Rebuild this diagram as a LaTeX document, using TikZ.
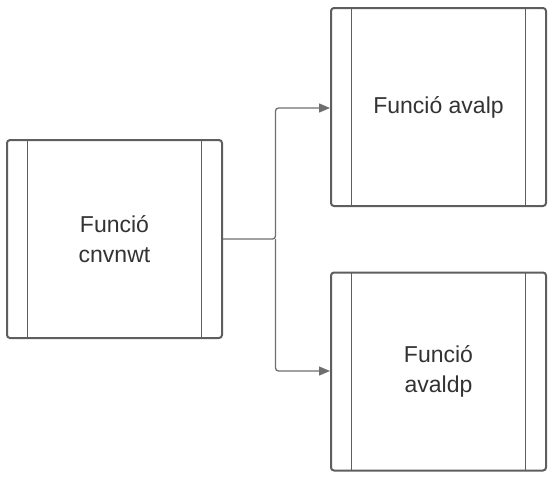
\documentclass[tikz,border=0pt]{standalone}
\usepackage{fontspec}
\setmainfont{Liberation Sans}
\usetikzlibrary{arrows.meta}
\definecolor{boxline}{HTML}{5E5E5E}
\definecolor{conn}{HTML}{6E6E6E}
\definecolor{txt}{HTML}{333333}
\tikzset{
  procbox/.style={draw=boxline, line width=2pt, rounded corners=3pt, fill=white,
    minimum width=215pt, minimum height=198pt, inner sep=0pt, outer sep=0pt,
    text=txt, font=\fontsize{23}{30}\selectfont, align=center},
  innerline/.style={draw=boxline, line width=1.8pt},
  link/.style={draw=conn, line width=1.3pt, rounded corners=3pt,
    -{Triangle[length=11pt,width=9pt]}}
}
\begin{document}
\begin{tikzpicture}[x=1pt,y=-1pt]
\useasboundingbox (0,0) rectangle (554,480);
\node[procbox] (c) at (114.5,239) {Funció\\cnvnwt};
\node[procbox] (a) at (438.5,107) {Funció avalp};
\node[procbox] (d) at (438.5,371.5) {Funció\\avaldp};
\foreach \n in {c,a,d}{
  \draw[innerline] ([xshift=20.5pt]\n.north west) -- ([xshift=20.5pt]\n.south west);
  \draw[innerline] ([xshift=-20.5pt]\n.north east) -- ([xshift=-20.5pt]\n.south east);
}
\coordinate (j) at (275.5,239);
\draw[link] ([xshift=1pt]c.east) -- (j) |- ([xshift=-1pt,yshift=-1pt]a.west);
\draw[link] (j) |- ([xshift=-1pt,yshift=0.5pt]d.west);
\end{tikzpicture}
\end{document}
